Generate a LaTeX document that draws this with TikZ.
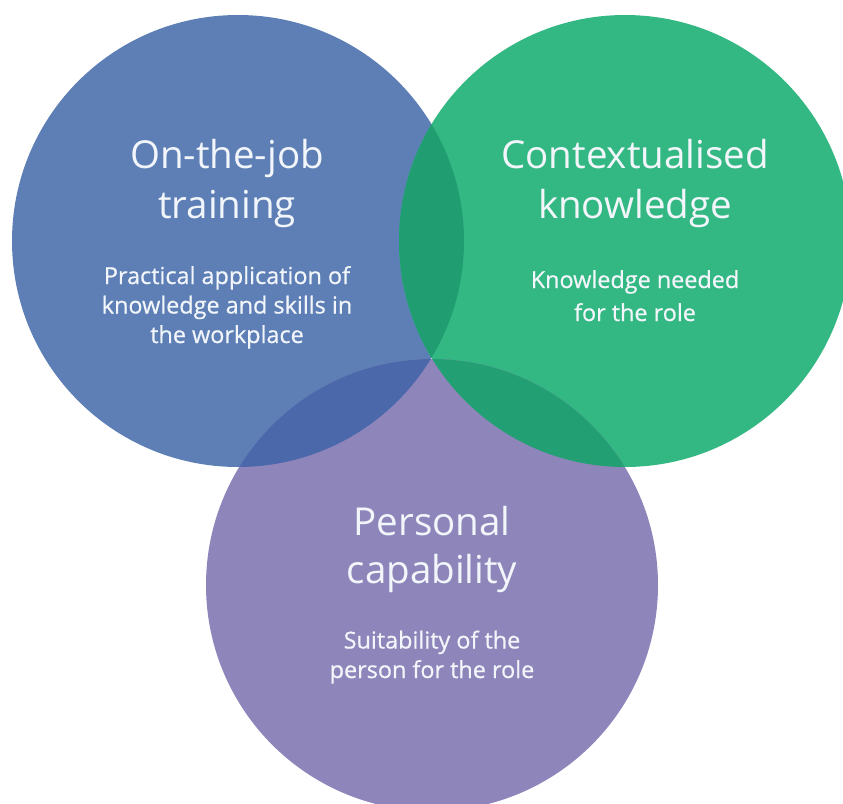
\documentclass[tikz,border=0pt]{standalone}
\usepackage{fontspec}
\setmainfont{Open Sans}
\newfontfamily\subfont[FakeBold=0.6]{Open Sans}
\definecolor{cblue}{RGB}{93,127,181}
\definecolor{cgreen}{RGB}{52,184,131}
\definecolor{cpurple}{RGB}{142,134,187}
\definecolor{cbg}{RGB}{32,158,113}
\definecolor{cbp}{RGB}{75,104,170}
\definecolor{cgp}{RGB}{34,160,115}
\definecolor{ctxt}{RGB}{242,246,250}
\begin{document}
\begin{tikzpicture}[x=1pt,y=-1pt,
  title/.style={text=ctxt,align=center,inner sep=0pt,anchor=base,font=\fontsize{38.5}{50}\selectfont},
  sub/.style={text=ctxt,align=center,inner sep=0pt,anchor=base,font=\subfont\fontsize{23.4}{29.5}\selectfont}]
\useasboundingbox (0,0) rectangle (843,803);
\clip (0,0) rectangle (843,803);
\coordinate (cb) at (238,241);
\coordinate (cg) at (625,241);
\coordinate (cp) at (432,585);
\def\R{226}
\fill[cblue] (cb) circle[radius=\R];
\fill[cgreen] (cg) circle[radius=\R];
\fill[cpurple] (cp) circle[radius=\R];
\begin{scope}
  \clip (cb) circle[radius=\R];
  \fill[cbg] (cg) circle[radius=\R];
  \fill[cbp] (cp) circle[radius=\R];
\end{scope}
\begin{scope}
  \clip (cg) circle[radius=\R];
  \fill[cgp] (cp) circle[radius=\R];
\end{scope}
\node[title] (tb) at (227,218) {On-the-job\\training};
\node[sub] (sb) at (227,343) {Practical application of\\knowledge and skills in\\the workplace};
\node[title] (tg) at (635,218) {Contextualised\\knowledge};
\node[sub,font=\subfont\fontsize{23.4}{33}\selectfont] (sg) at (635,321) {Knowledge needed\\for the role};
\node[title,font=\fontsize{38.5}{48}\selectfont] (tp) at (432,583) {Personal\\capability};
\node[sub] (sp) at (432,678) {Suitability of the\\person for the role};
\end{tikzpicture}
\end{document}
